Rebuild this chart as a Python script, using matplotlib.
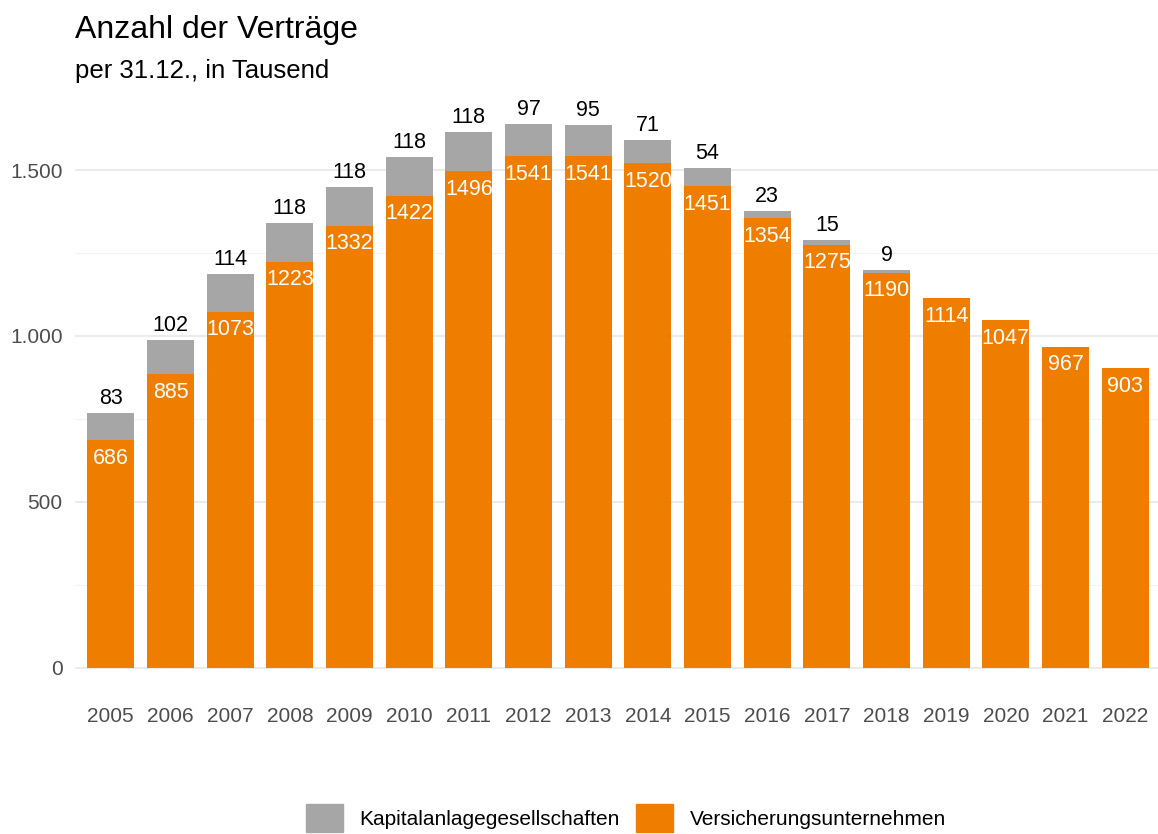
import matplotlib
matplotlib.use('Agg')
import matplotlib.pyplot as plt
from matplotlib.patches import Patch
from matplotlib.ticker import MultipleLocator, FuncFormatter

plt.rcParams['font.family'] = ['Liberation Sans', 'DejaVu Sans']

years = [str(y) for y in range(2005, 2023)]
versicherung = [686, 885, 1073, 1223, 1332, 1422, 1496, 1541, 1541, 1520,
                1451, 1354, 1275, 1190, 1114, 1047, 967, 903]
kapital = [83, 102, 114, 118, 118, 118, 118, 97, 95, 71,
           54, 23, 15, 9, 0, 0, 0, 0]

orange = '#EF7D00'
grey = '#A6A6A6'

W, H = 1158, 834
fig = plt.figure(figsize=(W / 100, H / 100), dpi=100)
ax = fig.add_axes([75 / W, 1 - 695 / H, (1161 - 75) / W, (695 - 97) / H])

x = list(range(len(years)))
ax.bar(x, versicherung, width=0.79, color=orange, zorder=2)
ax.bar(x, kapital, bottom=versicherung, width=0.79, color=grey, zorder=2)

for i in x:
    ax.annotate(str(versicherung[i]), (i, versicherung[i]), xytext=(0, -13),
                textcoords='offset points', ha='center', va='center',
                color='white', fontsize=15.5, zorder=3)
    if kapital[i] > 0:
        ax.annotate(str(kapital[i]), (i, versicherung[i] + kapital[i]), xytext=(0, 10.5),
                    textcoords='offset points', ha='center', va='center',
                    color='black', fontsize=15.5, zorder=3)

ax.set_xlim(-0.6, len(years) - 0.4)
ax.set_ylim(-82, 1720)
ax.set_xticks(x)
ax.set_xticklabels(years)
ax.yaxis.set_major_locator(MultipleLocator(500))
ax.yaxis.set_minor_locator(MultipleLocator(250))
ax.yaxis.set_major_formatter(FuncFormatter(lambda v, p: f'{int(v):,}'.replace(',', '.')))
ax.grid(axis='y', which='major', color='#EBEBEB', lw=1.5, zorder=0)
ax.grid(axis='y', which='minor', color='#F3F3F3', lw=0.8, zorder=0)
ax.tick_params(axis='both', which='both', length=0, labelsize=15, labelcolor='#4D4D4D')
ax.tick_params(axis='x', pad=9)
ax.tick_params(axis='y', pad=9)
for s in ax.spines.values():
    s.set_visible(False)

fig.text(75 / W, 1 - 38 / H, 'Anzahl der Verträge', fontsize=23, va='baseline', ha='left')
fig.text(75 / W, 1 - 78 / H, 'per 31.12., in Tausend', fontsize=18.5, va='baseline', ha='left')

handles = [Patch(color=grey, label='Kapitalanlagegesellschaften'),
           Patch(color=orange, label='Versicherungsunternehmen')]
fig.legend(handles=handles, loc='center', bbox_to_anchor=(626 / W, 1 - 818 / H),
           ncol=2, frameon=False, fontsize=15, handlelength=1.75, handleheight=1.75,
           columnspacing=0.8, handletextpad=0.8)

fig.savefig('out.png', dpi=100)
